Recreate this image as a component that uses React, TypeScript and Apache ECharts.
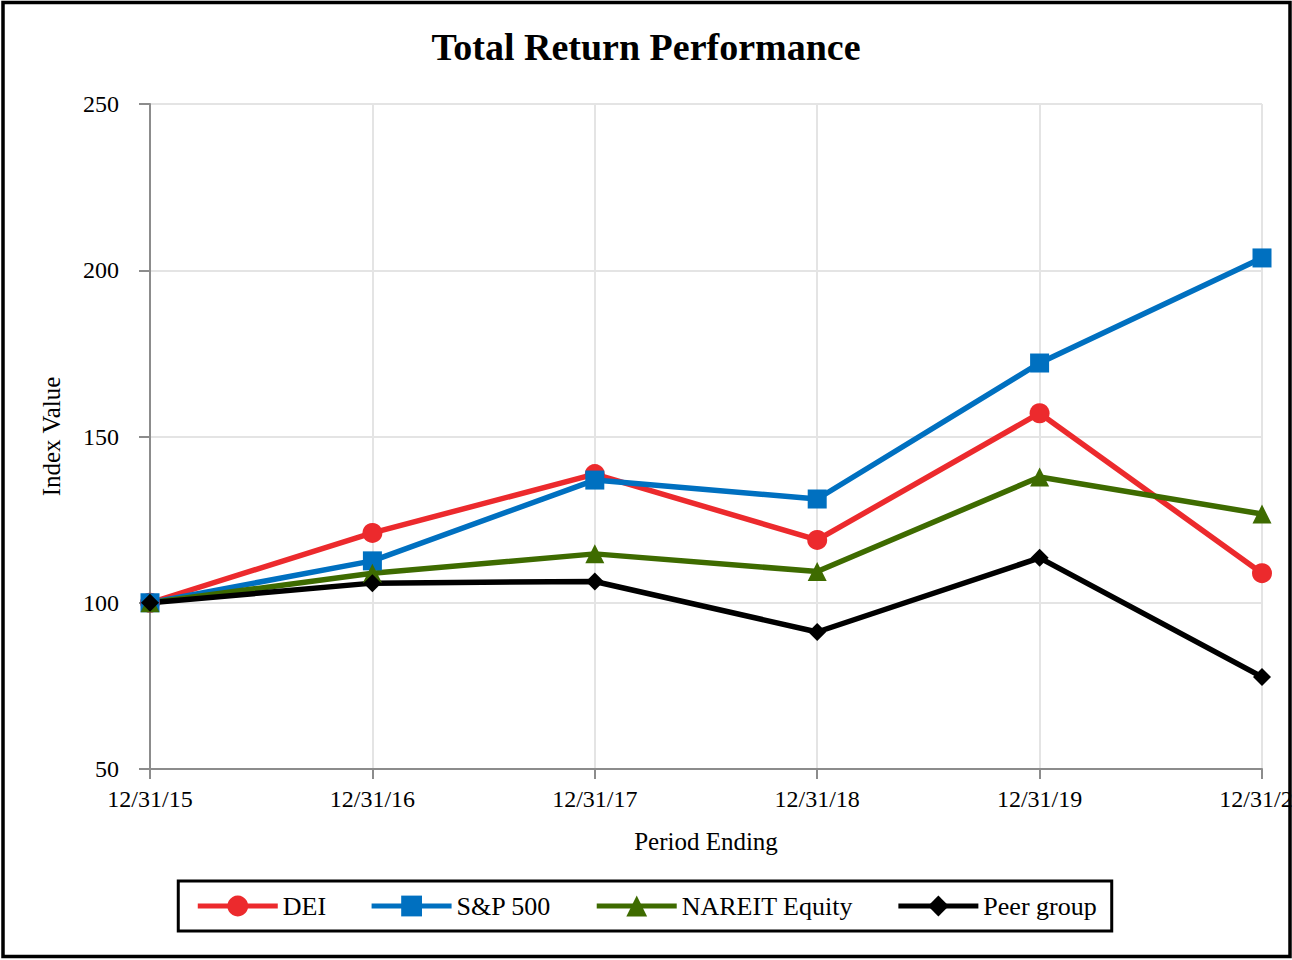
import React, { useEffect, useRef } from "react";
import * as echarts from "echarts";

const categories = ["12/31/15", "12/31/16", "12/31/17", "12/31/18", "12/31/19", "12/31/20"];
const dei = [100, 121, 138.7, 118.9, 157, 108.9];
const sp500 = [100, 112.6, 136.9, 131.2, 172.1, 203.7];
const nareit = [100, 108.9, 114.7, 109.4, 137.8, 126.7];
const peer = [100, 105.9, 106.4, 91.2, 113.5, 77.7];
const yTicks = { min: 50, max: 250, interval: 50 };

const FONT = "Liberation Serif";

export default function App() {
  const ref = useRef<HTMLDivElement>(null);
  useEffect(() => {
    if (!ref.current) return;
    const chart = echarts.init(ref.current, undefined, { renderer: "svg" });
    const axisColor = "#8c8c8c";
    const gridColor = "#e4e4e4";
    const mk = (name: string, data: number[], color: string, symbol: string, size: number) => ({
      name,
      type: "line",
      data,
      symbol,
      symbolSize: size,
      lineStyle: { color, width: 5.5 },
      itemStyle: { color },
      emphasis: { disabled: true },
    });
    chart.setOption({
      animation: false,
      title: {
        text: "Total Return Performance",
        left: "center",
        top: 28,
        padding: 0,
        textStyle: { fontFamily: FONT, fontSize: 38, fontWeight: "bold", color: "#000" },
      },
      grid: { left: 150, right: 30, top: 104, bottom: 191, outerBoundsMode: "none", containLabel: false },
      legend: {
        bottom: 29,
        left: "center",
        borderColor: "#000",
        borderWidth: 3,
        padding: [12, 15, 12, 17],
        itemWidth: 80,
        itemHeight: 26,
        itemGap: 43,
        lineStyle: { width: 5 },
        textStyle: { fontFamily: FONT, fontSize: 26, color: "#000" },
        data: ["DEI", "S&P 500", "NAREIT Equity", "Peer group"],
      },
      xAxis: {
        type: "category",
        data: categories,
        boundaryGap: false,
        name: "Period Ending",
        nameLocation: "middle",
        nameGap: 60,
        nameTextStyle: { fontFamily: FONT, fontSize: 25, color: "#000" },
        axisLine: { lineStyle: { color: axisColor, width: 2 } },
        axisTick: { show: true, length: 10, lineStyle: { color: axisColor, width: 2 } },
        axisLabel: { interval: 0, fontFamily: FONT, fontSize: 24, color: "#000", margin: 18, hideOverlap: false },
        splitLine: { show: true, lineStyle: { color: gridColor, width: 2 } },
      },
      yAxis: {
        type: "value",
        min: yTicks.min,
        max: yTicks.max,
        interval: yTicks.interval,
        name: "Index Value",
        nameLocation: "middle",
        nameGap: 86,
        nameTextStyle: { fontFamily: FONT, fontSize: 25, color: "#000" },
        axisLine: { show: true, lineStyle: { color: axisColor, width: 2 } },
        axisTick: { show: true, length: 11, lineStyle: { color: axisColor, width: 2 } },
        axisLabel: { fontFamily: FONT, fontSize: 24, color: "#000", margin: 31 },
        splitLine: { show: true, lineStyle: { color: gridColor, width: 2 } },
      },
      series: [
        mk("DEI", dei, "#ec2a2d", "circle", 20),
        mk("S&P 500", sp500, "#0070c0", "rect", 19),
        mk("NAREIT Equity", nareit, "#3e6b00", "triangle", 19),
        mk("Peer group", peer, "#000000", "diamond", 18),
      ],
      graphic: [
        {
          type: "rect",
          z: 100,
          silent: true,
          shape: { x: 3, y: 2.5, width: 1287, height: 954 },
          style: { fill: "none", stroke: "#000", lineWidth: 3.5 },
        },
      ],
    });
    return () => chart.dispose();
  }, []);
  return (
    <div
      ref={ref}
      style={{ position: "absolute", left: 0, top: 0, width: 1292, height: 960, background: "#fff" }}
    />
  );
}
